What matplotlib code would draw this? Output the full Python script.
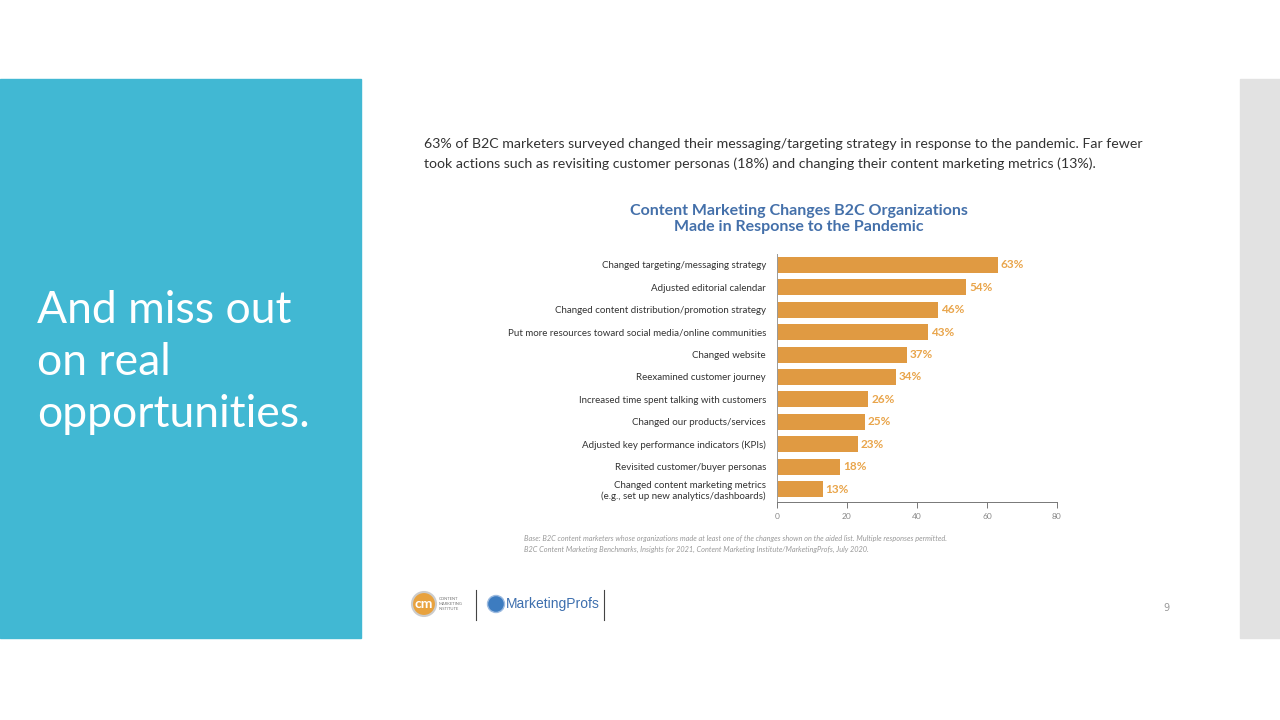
import matplotlib.pyplot as plt
from matplotlib.patches import Rectangle, Circle

# data
categories = [
    "Changed targeting/messaging strategy",
    "Adjusted editorial calendar",
    "Changed content distribution/promotion strategy",
    "Put more resources toward social media/online communities",
    "Changed website",
    "Reexamined customer journey",
    "Increased time spent talking with customers",
    "Changed our products/services",
    "Adjusted key performance indicators (KPIs)",
    "Revisited customer/buyer personas",
    "Changed content marketing metrics\n(e.g., set up new analytics/dashboards)",
]
values = [63, 54, 46, 43, 37, 34, 26, 25, 23, 18, 13]
xticks = [0, 20, 40, 60, 80]

intro = ("63% of B2C marketers surveyed changed their messaging/targeting strategy in response to the pandemic. Far fewer\n"
         "took actions such as revisiting customer personas (18%) and changing their content marketing metrics (13%).")
chart_title = "Content Marketing Changes B2C Organizations\nMade in Response to the Pandemic"
base_note = ("Base: B2C content marketers whose organizations made at least one of the changes shown on the aided list. Multiple responses permitted.\n"
             "B2C Content Marketing Benchmarks, Insights for 2021, Content Marketing Institute/MarketingProfs, July 2020.")
side_text = "And miss out\non real\nopportunities."

sans = ["Lato", "DejaVu Sans"]
bar_color = "#E09A42"
label_color = "#E9A54B"

fig = plt.figure(figsize=(12.8, 7.2), dpi=100)
fig.patch.set_facecolor("white")

# slide background pieces (figure coords, y from bottom)
fig.patches.append(Rectangle((0, 1 - 638 / 720), 361 / 1280, (638 - 79) / 720,
                             transform=fig.transFigure, color="#41B8D3", zorder=0))
fig.patches.append(Rectangle((1240 / 1280, 1 - 638 / 720), 40 / 1280, (638 - 79) / 720,
                             transform=fig.transFigure, color="#E2E2E2", zorder=0))

fig.text(37 / 1280, 1 - 290 / 720, side_text, color="white", fontsize=32,
         family=sans, va="top", ha="left", linespacing=1.33)

fig.text(424 / 1280, 1 - 154 / 720, intro, color="#333333", fontsize=10.2,
         family=sans, va="center", ha="left", linespacing=1.75)

fig.text(799 / 1280, 1 - 219 / 720, chart_title, color="#4470AA", fontsize=11.5,
         family=sans, weight="bold", va="center", ha="center", linespacing=1.2)

# bar chart
ax = fig.add_axes([777 / 1280, 1 - 502 / 720, 280 / 1280, 248 / 720])
ypos = list(range(len(categories)))
ax.barh(ypos, values, height=0.72, color=bar_color)
for y, v in zip(ypos, values):
    ax.text(v + 0.9, y, f"{v}%", color=label_color, fontsize=8.5, weight="bold",
            family=sans, va="center", ha="left")
ax.set_xlim(0, 80)
ax.set_ylim(10.58, -0.49)
ax.set_yticks(ypos)
ax.set_yticklabels(categories, fontsize=7, color="#333333", family=sans, linespacing=1.2)
ax.set_xticks(xticks)
ax.set_xticklabels([str(t) for t in xticks], fontsize=6, color="#888888", family=sans)
ax.tick_params(axis="y", length=0, pad=8)
ax.tick_params(axis="x", length=4, color="#777777", width=0.7, pad=4)
for s in ["top", "right"]:
    ax.spines[s].set_visible(False)
ax.spines["left"].set_color("#999999")
ax.spines["bottom"].set_color("#777777")
ax.spines["left"].set_linewidth(0.7)
ax.spines["bottom"].set_linewidth(0.7)

fig.text(524 / 1280, 1 - 544 / 720, base_note, color="#999999", fontsize=5.3,
         style="italic", family=sans, va="center", ha="left", linespacing=1.8)

# logos at the bottom (circles placed in inches so they stay round)
fig.patches.append(Circle((4.24, 7.2 - 6.04), 0.12, transform=fig.dpi_scale_trans,
                          facecolor="#E8A23E", edgecolor="#CCCCCC", lw=1.5, zorder=2))
fig.text(424 / 1280, 1 - 604 / 720, "cm", color="white", fontsize=10, weight="bold",
         family=sans, ha="center", va="center", zorder=3)
fig.text(439 / 1280, 1 - 604 / 720, "CONTENT\nMARKETING\nINSTITUTE", color="#777777",
         fontsize=3, family=sans, ha="left", va="center", linespacing=1.2)
fig.add_artist(plt.Line2D([476 / 1280, 476 / 1280], [1 - 620 / 720, 1 - 590 / 720],
                          color="#444444", lw=0.8, transform=fig.transFigure))
fig.patches.append(Circle((4.96, 7.2 - 6.04), 0.085, transform=fig.dpi_scale_trans,
                          facecolor="#3D7CC0", edgecolor="#9DBBE0", lw=1, zorder=2))
fig.text(506 / 1280, 1 - 604 / 720, "MarketingProfs", color="#3D6FAE", fontsize=10,
         family=["Liberation Sans", "DejaVu Sans"], ha="left", va="center")
fig.add_artist(plt.Line2D([604 / 1280, 604 / 1280], [1 - 620 / 720, 1 - 590 / 720],
                          color="#444444", lw=0.8, transform=fig.transFigure))
fig.text(1166 / 1280, 1 - 608 / 720, "9", color="#999999", fontsize=7, ha="center", va="center")

fig.savefig("out.png", dpi=100)
